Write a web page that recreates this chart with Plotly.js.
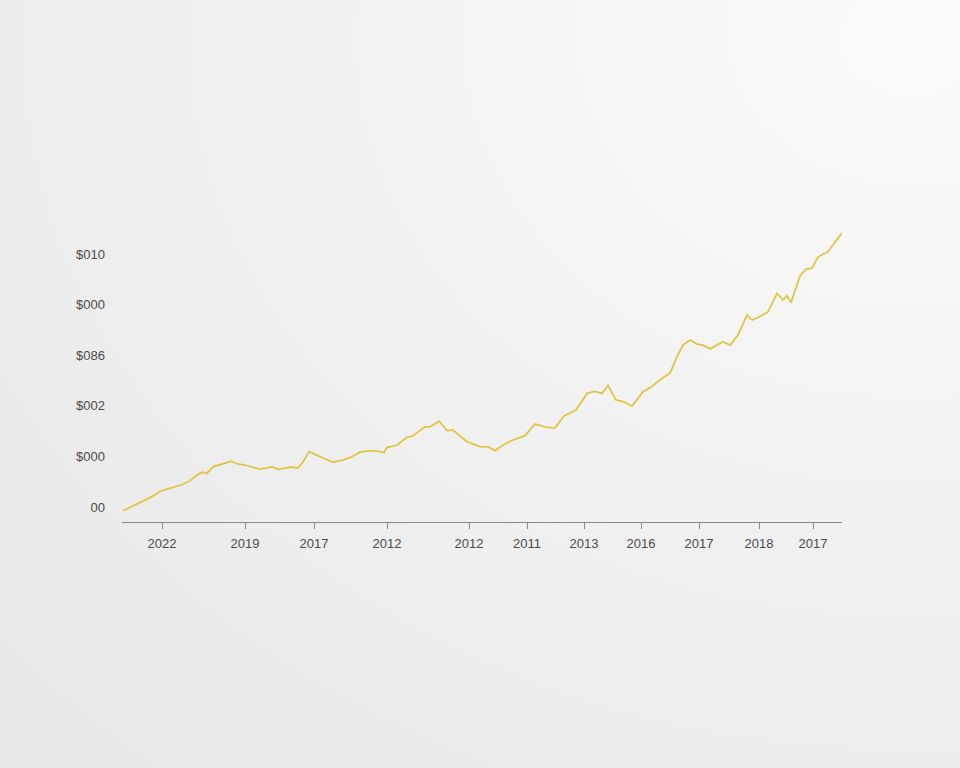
<!DOCTYPE html>
<html>
<head>
<meta charset="utf-8">
<script src="https://cdn.plot.ly/plotly-3.0.1.min.js"></script>
<style>
  html, body { margin:0; padding:0; width:960px; height:768px; overflow:hidden; }
  body { background: radial-gradient(ellipse at 95% 5%, #fcfcfc 0%, #f3f3f3 35%, #ececec 75%, #e8e8e8 100%); }
  #chart { width:960px; height:768px; }
</style>
</head>
<body>
<div id="chart"></div>
<script>
// Series (index position along the axis, value)
const xIndex = [1,16,29,39,49,59,68,76,81,85,91,99,109,116,124,131,138,144,150,156,163,169,176,181,187,201,211,221,228,238,248,258,262,265,275,285,290,295,303,308,317,325,331,338,345,358,366,373,381,391,403,413,425,433,442,454,465,473,480,486,494,501,510,521,529,539,548,555,561,568,575,581,588,595,601,608,612,616,625,630,635,641,646,655,661,665,669,678,684,690,696,701,706,713,721];
const values = [-1.5,1.5,3.9,6.4,7.4,8.7,10.4,12.9,13.8,13.3,15.9,17.0,18.1,17.0,16.5,15.7,15.0,15.4,15.9,14.9,15.4,15.8,15.4,17.8,21.9,19.6,17.7,18.6,19.5,21.7,22.3,21.9,21.5,23.6,24.4,27.6,27.9,29.4,31.7,31.7,33.9,30.2,30.4,28.1,25.8,23.9,23.8,22.3,24.5,26.5,28.2,32.8,31.5,31.3,36.0,38.3,44.9,45.7,44.9,48.0,42.3,41.7,39.9,45.6,47.4,50.6,52.9,59.4,64.0,66.0,64.4,64.0,62.5,64.0,65.3,64.0,66.0,68.0,75.9,73.9,74.7,75.9,77.1,84.4,81.8,83.4,80.8,91.3,94.0,94.4,98.8,99.9,100.9,104.7,108.8];

// Tick labels as printed in the reference
const xTickVals = [40,123,192,265,347,405,462,519,577,637,691];
const xTickText = ["2022","2019","2017","2012","2012","2011","2013","2016","2017","2018","2017"];
const yTickVals = [0,20,40,60,80,100];
const yTickText = ["00","$000","$002","$086","$000","$010"];

const trace = {
  x: xIndex, y: values, type: 'scatter', mode: 'lines',
  line: { color: '#e0c545', width: 1.8 },
  hoverinfo: 'skip'
};

const layout = {
  width: 960, height: 768,
  paper_bgcolor: 'rgba(0,0,0,0)', plot_bgcolor: 'rgba(0,0,0,0)',
  margin: { l: 122, r: 118, t: 200, b: 246 },
  showlegend: false,
  font: { family: 'Liberation Sans, Arial, sans-serif', size: 13, color: '#4a4a4a' },
  xaxis: {
    range: [0, 720], showgrid: false, zeroline: false,
    showline: true, linecolor: '#8a8a8a', linewidth: 1,
    ticks: 'outside', ticklen: 6, tickcolor: '#8a8a8a', tickwidth: 1,
    tickmode: 'array', tickvals: xTickVals, ticktext: xTickText,
    ticklabelstandoff: 3,
    tickfont: { size: 13, color: '#4a4a4a' }
  },
  yaxis: {
    range: [-5.93, 121.35], showgrid: false, zeroline: false, showline: false,
    ticks: '', tickmode: 'array', tickvals: yTickVals, ticktext: yTickText,
    ticklabelstandoff: 16,
    tickfont: { size: 13, color: '#4a4a4a' }
  }
};

Plotly.newPlot('chart', [trace], layout, { displayModeBar: false, staticPlot: true });
</script>
</body>
</html>
